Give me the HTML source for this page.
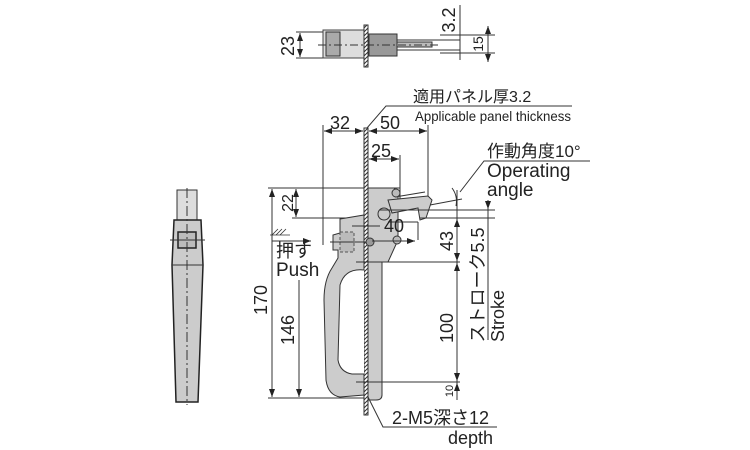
<!DOCTYPE html>
<html><head><meta charset="utf-8"><style>
html,body{margin:0;padding:0;background:#fff;}
svg{display:block;font-family:"Liberation Sans","Noto Sans CJK JP",sans-serif;}
</style></head><body>
<svg width="750" height="450" viewBox="0 0 750 450" xmlns="http://www.w3.org/2000/svg">
<defs>
<pattern id="h" width="4" height="4" patternUnits="userSpaceOnUse"><rect width="4" height="4" fill="#fff"/><path d="M0 4L4 0" stroke="#333" stroke-width="1"/></pattern>
<marker id="a" markerWidth="8" markerHeight="6" refX="8" refY="3" orient="auto-start-reverse" markerUnits="userSpaceOnUse"><path d="M0 0L8 3L0 6z" fill="#222"/></marker>
</defs>
<g stroke="#333" stroke-width="1" fill="none">
<!-- TOP VIEW -->
<line x1="296" y1="32" x2="323" y2="32"/><line x1="296" y1="58" x2="323" y2="58"/>
<line x1="300" y1="33" x2="300" y2="57" marker-start="url(#a)" marker-end="url(#a)"/>
<rect x="323" y="30" width="42" height="28" fill="#ddd" stroke="#444"/>
<rect x="326" y="32" width="14" height="24" fill="#aaa"/>
<rect x="364" y="25" width="4" height="42" fill="url(#h)"/>
<rect x="369" y="34" width="28" height="22" fill="#999"/>
<line x1="397" y1="40" x2="460" y2="40"/><line x1="397" y1="50" x2="460" y2="50"/>
<rect x="397" y="42" width="35" height="5" fill="#bbb"/>
<line x1="318" y1="45" x2="440" y2="45" stroke-dasharray="8,3,2,3"/>
<line x1="460" y1="5" x2="460" y2="60"/>
<line x1="440" y1="35" x2="495" y2="35"/><line x1="440" y1="53" x2="495" y2="53"/>
<line x1="488" y1="26" x2="488" y2="62" marker-start="url(#a)" marker-end="url(#a)"/>
<!-- LEFT VIEW -->
<rect x="177" y="190" width="20" height="32" fill="#ddd"/>
<path d="M174 220 L201 220 L203 265 L198 402 L176 402 L172 265Z" fill="#ccc" stroke="#222" stroke-width="1.5"/>
<line x1="172" y1="265" x2="203" y2="265"/>
<rect x="178" y="232" width="18" height="16" fill="#bbb" stroke="#222" stroke-width="1.5"/>
<line x1="170" y1="240" x2="205" y2="240"/>
<line x1="187" y1="188" x2="187" y2="405" stroke-dasharray="10,3,2,3"/>
<!-- SIDE VIEW: dims -->
<line x1="268" y1="188" x2="400" y2="188"/>
<line x1="292" y1="218" x2="370" y2="218"/>
<line x1="268" y1="398" x2="365" y2="398"/>
<line x1="272" y1="189" x2="272" y2="397" marker-start="url(#a)" marker-end="url(#a)"/>
<line x1="296" y1="189" x2="296" y2="217" marker-start="url(#a)" marker-end="url(#a)"/>
<line x1="299" y1="280" x2="299" y2="397" marker-end="url(#a)"/>
<line x1="323" y1="125" x2="323" y2="245"/>
<line x1="428" y1="125" x2="428" y2="200"/>
<line x1="400" y1="155" x2="400" y2="200"/>
<line x1="324" y1="131" x2="363" y2="131" marker-start="url(#a)" marker-end="url(#a)"/>
<line x1="369" y1="131" x2="427" y2="131" marker-start="url(#a)" marker-end="url(#a)"/>
<line x1="369" y1="159" x2="399" y2="159" marker-start="url(#a)" marker-end="url(#a)"/>
<!-- panel -->
<rect x="364" y="128" width="4" height="287" fill="url(#h)"/>
<!-- plate -->
<path d="M368 188 L394 188 L398 193 L398 240 L388 262 L382 262 L382 395 Q382 400 376 400 L368 400Z" fill="#ccc" stroke="#333"/>
<!-- lever -->
<path d="M388 200 L428 196 L432 200 L426 218 L420 220 L418 208 L392 213Z" fill="#ccc" stroke="#333"/>
<path d="M395 197 L425 192" />
<!-- handle -->
<path d="M340 219 L364 215 L364 395 L340 397 Q328 395 326 380 L324 300 Q324 280 332 268 L338 258 L338 250 L333 250 L333 235 L340 233Z" fill="#ccc" stroke="#333"/>
<path d="M364 270 Q345 268 340 285 L338 360 Q340 372 352 374 L364 374" fill="#fff" stroke="#333"/>
<rect x="340" y="232" width="14" height="20" fill="#bbb" stroke="#555" stroke-dasharray="3,2"/>
<line x1="330" y1="242" x2="372" y2="242"/>
<line x1="352" y1="226" x2="380" y2="226"/>
<circle cx="396" cy="193" r="4" fill="#bbb"/>
<circle cx="384" cy="214" r="6" fill="#ccc"/>
<circle cx="397" cy="240" r="4" fill="#bbb"/>
<circle cx="370" cy="242" r="4" fill="#999"/>
<line x1="388" y1="222" x2="418" y2="222"/><line x1="418" y1="222" x2="418" y2="240"/>
<line x1="372" y1="241" x2="415" y2="241" marker-end="url(#a)"/>
<line x1="356" y1="262" x2="460" y2="262"/>
<line x1="356" y1="382" x2="460" y2="382"/>
<line x1="380" y1="210" x2="495" y2="210"/>
<line x1="420" y1="218" x2="495" y2="218"/>
<line x1="457" y1="190" x2="457" y2="400"/>
<line x1="457" y1="219" x2="457" y2="261" marker-start="url(#a)" marker-end="url(#a)"/>
<line x1="457" y1="263" x2="457" y2="381" marker-start="url(#a)" marker-end="url(#a)"/>
<line x1="457" y1="383" x2="457" y2="397" marker-start="url(#a)"/>
<line x1="488" y1="205" x2="488" y2="340"/>
<line x1="488" y1="200" x2="488" y2="209" marker-end="url(#a)"/>
<path d="M430 205 L462 199"/>
<path d="M452 188 Q458 196 456 206"/>
<!-- push arrow -->
<line x1="272" y1="241" x2="311" y2="241" marker-end="url(#a)"/>
<path d="M272 235 L278 229 M276 235 L282 229 M280 235 L286 229 M270 235 L290 235" stroke-width="0.8"/>
<!-- leaders -->
<polyline points="367,128 386,106 572,106"/>
<polyline points="460,192 484,161 590,161"/>
<polyline points="368,397 383,427 497,427"/>
</g>
<g fill="#222" font-size="18">
<text x="294" y="46" transform="rotate(-90 294 46)" text-anchor="middle">23</text>
<text x="455" y="20" transform="rotate(-90 455 20)" text-anchor="middle">3.2</text>
<text x="483" y="44" transform="rotate(-90 483 44)" text-anchor="middle" font-size="14">15</text>
<text x="413" y="102" font-size="16">適用パネル厚3.2</text>
<text x="415" y="121" font-size="14" textLength="156" lengthAdjust="spacingAndGlyphs">Applicable panel thickness</text>
<text x="330" y="129">32</text>
<text x="380" y="129">50</text>
<text x="371" y="157">25</text>
<text x="487" y="157" font-size="17">作動角度10°</text>
<text x="487" y="177" font-size="19">Operating</text>
<text x="487" y="196" font-size="19">angle</text>
<text x="293" y="203" transform="rotate(-90 293 203)" text-anchor="middle" font-size="16">22</text>
<text x="384" y="232">40</text>
<text x="276" y="257" font-size="18">押す</text>
<text x="276" y="276" font-size="19">Push</text>
<text x="267" y="300" transform="rotate(-90 267 300)" text-anchor="middle">170</text>
<text x="294" y="330" transform="rotate(-90 294 330)" text-anchor="middle">146</text>
<text x="453" y="241" transform="rotate(-90 453 241)" text-anchor="middle">43</text>
<text x="453" y="328" transform="rotate(-90 453 328)" text-anchor="middle">100</text>
<text x="453" y="391" transform="rotate(-90 453 391)" text-anchor="middle" font-size="11">10</text>
<text x="484" y="285" transform="rotate(-90 484 285)" text-anchor="middle">ストローク5.5</text>
<text x="504" y="316" transform="rotate(-90 504 316)" text-anchor="middle">Stroke</text>
<text x="392" y="424">2-M5深さ12</text>
<text x="448" y="444">depth</text>
</g>
</svg>
</body></html>
